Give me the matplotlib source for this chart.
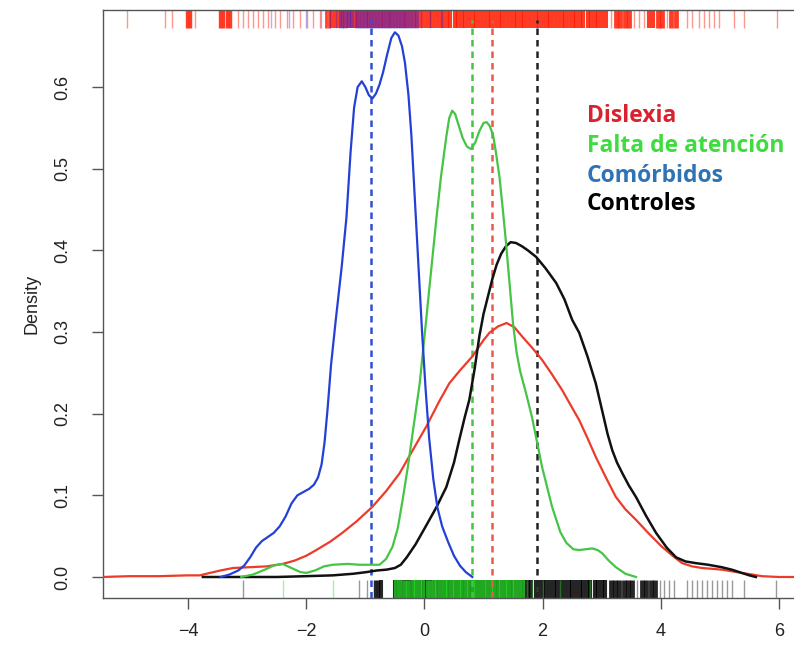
#!/bin/env python3

"""
Density curves of four groups with their means (dashed) and rug marks.
"""

import numpy
import matplotlib
matplotlib.use("Agg")
import matplotlib.pyplot as plt

FIGSIZE = (7.94, 6.45)
DPI = 100
PX_PER_UNIT = 59.3

# density curves
DIS_X = [-5.44, -5.0, -4.5, -4.0, -3.8, -3.63, -3.45, -3.24, -2.95, -2.67, -2.4,
         -2.2, -2.0, -1.83, -1.6, -1.39, -1.15, -0.88, -0.65, -0.42, -0.2, 0.03,
         0.25, 0.42, 0.59, 0.81, 1.0, 1.1, 1.25, 1.39, 1.52, 1.66, 1.82, 1.99,
         2.16, 2.33, 2.47, 2.62, 2.76, 2.9, 3.07, 3.24, 3.4, 3.58, 3.8, 4.02,
         4.2, 4.36, 4.53, 4.7, 4.87, 5.03, 5.2, 5.37, 5.55, 5.71, 6.0, 6.6]
DIS_Y = [0.0, 0.001, 0.001, 0.002, 0.002, 0.005, 0.008, 0.011, 0.012, 0.013, 0.016,
         0.02, 0.026, 0.033, 0.043, 0.054, 0.068, 0.086, 0.105, 0.127, 0.155, 0.184,
         0.215, 0.237, 0.252, 0.27, 0.29, 0.299, 0.307, 0.311, 0.306, 0.294, 0.281, 0.266,
         0.248, 0.229, 0.211, 0.192, 0.17, 0.147, 0.122, 0.098, 0.083, 0.07, 0.053, 0.037,
         0.026, 0.017, 0.013, 0.011, 0.01, 0.009, 0.007, 0.005, 0.003, 0.001, 0.0, 0.0]

FAL_X = [-3.1, -2.9, -2.7, -2.55, -2.4, -2.25, -2.1, -2.0, -1.85, -1.7, -1.55, -1.3,
         -1.1, -0.9, -0.76, -0.65, -0.54, -0.45, -0.37, -0.28, -0.2, -0.08, 0.03,
         0.12, 0.2, 0.28, 0.37, 0.42, 0.47, 0.52, 0.58, 0.65, 0.72, 0.79, 0.86, 0.93,
         1.0, 1.05, 1.1, 1.16, 1.21, 1.27, 1.32, 1.38, 1.44, 1.5, 1.56, 1.62, 1.72,
         1.82, 1.99, 2.16, 2.3, 2.4, 2.52, 2.62, 2.73, 2.84, 2.93, 3.01, 3.12, 3.24,
         3.4, 3.58]
FAL_Y = [0.0, 0.003, 0.009, 0.014, 0.016, 0.011, 0.006, 0.005, 0.008, 0.013, 0.015, 0.016,
         0.015, 0.015, 0.015, 0.022, 0.037, 0.06, 0.094, 0.135, 0.176, 0.237, 0.315,
         0.38, 0.437, 0.49, 0.539, 0.562, 0.571, 0.567, 0.553, 0.537, 0.527, 0.524, 0.532, 0.546,
         0.556, 0.557, 0.553, 0.542, 0.52, 0.49, 0.455, 0.41, 0.36, 0.31, 0.275, 0.252, 0.225,
         0.196, 0.135, 0.086, 0.055, 0.042, 0.034, 0.033, 0.034, 0.035, 0.033, 0.029, 0.02, 0.012,
         0.004, 0.0]

COM_X = [-3.45, -3.3, -3.15, -3.05, -2.95, -2.85, -2.75, -2.65, -2.55, -2.45, -2.35,
         -2.25, -2.15, -2.05, -1.95, -1.87, -1.8, -1.74, -1.69, -1.64, -1.58, -1.5,
         -1.4, -1.32, -1.25, -1.19, -1.13, -1.06, -1.0, -0.94, -0.88, -0.82, -0.76,
         -0.7, -0.63, -0.56, -0.5, -0.44, -0.38, -0.33, -0.27, -0.22, -0.16, -0.1,
         -0.04, 0.02, 0.08, 0.15, 0.22, 0.3, 0.4, 0.5, 0.6, 0.7, 0.81]
COM_Y = [0.0, 0.003, 0.008, 0.014, 0.024, 0.036, 0.044, 0.049, 0.054, 0.062, 0.074,
         0.09, 0.1, 0.104, 0.108, 0.113, 0.122, 0.138, 0.165, 0.205, 0.26, 0.315,
         0.38, 0.44, 0.52, 0.575, 0.6, 0.607, 0.6, 0.59, 0.586, 0.592, 0.603,
         0.618, 0.64, 0.66, 0.667, 0.663, 0.65, 0.63, 0.59, 0.54, 0.46, 0.38,
         0.3, 0.23, 0.17, 0.12, 0.085, 0.062, 0.043, 0.026, 0.014, 0.006, 0.0]

CON_X = [-3.75, -3.0, -2.5, -2.0, -1.55, -1.2, -0.98, -0.8, -0.64, -0.5, -0.4, -0.3,
         -0.15, 0.03, 0.2, 0.37, 0.5, 0.59, 0.68, 0.76, 0.85, 0.93, 1.0, 1.08, 1.15,
         1.22, 1.3, 1.38, 1.46, 1.55, 1.65, 1.75, 1.89, 2.05, 2.23, 2.37, 2.5, 2.62,
         2.76, 2.9, 3.02, 3.1, 3.18, 3.26, 3.35, 3.46, 3.58, 3.75, 3.92, 4.1, 4.26,
         4.42, 4.59, 4.8, 5.03, 5.2, 5.37, 5.5, 5.61]
CON_Y = [0.0, 0.0, 0.0, 0.001, 0.002, 0.004, 0.006, 0.008, 0.009, 0.011, 0.015, 0.024,
         0.04, 0.063, 0.085, 0.11, 0.14, 0.168, 0.195, 0.217, 0.255, 0.295, 0.322, 0.345, 0.365,
         0.382, 0.396, 0.405, 0.41, 0.409, 0.405, 0.4, 0.392, 0.378, 0.36, 0.34, 0.315, 0.299,
         0.27, 0.237, 0.2, 0.175, 0.155, 0.14, 0.127, 0.112, 0.098, 0.075, 0.054, 0.036, 0.024,
         0.019, 0.017, 0.015, 0.012, 0.009, 0.005, 0.002, 0.0]

# group means (dashed lines)
MEANS = {"Comórbidos": -0.9, "Falta de atención": 0.81, "Dislexia": 1.15, "Controles": 1.91}

# rug marks (top: Dislexia, Comórbidos; bottom: Controles, Falta de atención)
RUG_DIS = [-5.03, -4.39, -4.27, -4.02, -3.97, -3.89, -3.46, -3.41, -3.34, -3.29, -3.16,
           -3.07, -2.99, -2.9, -2.82, -2.74, -2.65, -2.53, -2.45, -2.33, -2.23, -2.11,
           -1.99, -1.89, -1.77, -1.66,
           -1.62, -1.56, -1.49, -1.43, -1.37, -1.31, -1.24, -1.18, -1.12, -1.06, -0.99,
           -0.93, -0.87, -0.81, -0.74, -0.68, -0.62, -0.56, -0.49, -0.43, -0.37, -0.31,
           -0.24, -0.18, -0.12, -0.06, 0.01, 0.07, 0.13, 0.19, 0.26, 0.32, 0.38, 0.44,
           0.51, 0.57, 0.63, 0.69, 0.76, 0.82, 0.88, 0.94, 1.01, 1.07, 1.13, 1.19, 1.26,
           1.32, 1.38, 1.44, 1.51, 1.57, 1.63, 1.69, 1.76, 1.82, 1.88, 1.94, 2.01, 2.07,
           2.13, 2.19, 2.26, 2.32, 2.38, 2.44, 2.51, 2.57, 2.63, 2.69, 2.76, 2.82, 2.88,
           2.94, 3.01, 3.07, 3.16, 3.24, 3.31, 3.4, 3.47, 3.55, 3.63, 3.72, 3.8, 3.86,
           3.95, 4.02, 4.1, 4.18, 4.25, 4.44, 4.53, 4.65, 4.73, 4.81, 4.9, 4.98, 5.24,
           5.41, 5.96]
RUG_COM = [-2.6, -2.3, -2.0, -1.75, -1.6, -1.5, -1.42, -1.35, -1.28, -1.22, -1.15, -1.1,
           -1.05, -1.0, -0.95, -0.9, -0.85, -0.8, -0.75, -0.7, -0.65, -0.6, -0.55, -0.5,
           -0.45, -0.4, -0.35, -0.3, -0.22, -0.15, -0.05, 0.1, 0.3]
RUG_CON = [-3.07, -1.1, -0.98, -0.84, -0.79, -0.73, -0.5, -0.44, -0.38, -0.31, -0.25,
           -0.19, -0.12, -0.06, 0.0, 0.06, 0.13, 0.19, 0.25, 0.31, 0.38, 0.44, 0.5,
           0.56, 0.63, 0.69, 0.75, 0.81, 0.88, 0.94, 1.0, 1.06, 1.13, 1.19, 1.25, 1.31,
           1.38, 1.44, 1.5, 1.56, 1.63, 1.69, 1.75, 1.81, 1.88, 1.94, 2.0, 2.06, 2.13,
           2.19, 2.25, 2.31, 2.38, 2.44, 2.5, 2.56, 2.63, 2.69, 2.75, 2.81, 2.88, 2.94,
           3.0, 3.06, 3.15, 3.22, 3.3, 3.37, 3.45, 3.52, 3.6, 3.68, 3.75, 3.83, 3.9,
           3.98, 4.06, 4.14, 4.22, 4.44, 4.53, 4.61, 4.7, 4.78, 4.86, 4.95, 5.03, 5.12,
           5.2, 5.41, 5.95]
RUG_FAL = [-2.4, -1.55, -0.48, -0.42, -0.35, -0.28, -0.2, -0.14, -0.08, -0.02, 0.05,
           0.1, 0.16, 0.22, 0.28, 0.34, 0.4, 0.46, 0.52, 0.58, 0.64, 0.7, 0.76, 0.82,
           0.88, 0.94, 1.0, 1.06, 1.12, 1.18, 1.24, 1.3, 1.36, 1.42, 1.48, 1.54, 1.6,
           1.66, 1.74, 1.82, 1.9, 2.0, 2.3, 2.8]

GROUPS = ["Dislexia", "Falta de atención", "Comórbidos", "Controles"]
CURVE_COLORS = {"Dislexia": "#ec3b2a", "Falta de atención": "#45c445",
                "Comórbidos": "#2440d6", "Controles": "#111111"}
TEXT_COLORS = {"Dislexia": "#d8232f", "Falta de atención": "#3fdc3f",
               "Comórbidos": "#2e74b5", "Controles": "#000000"}
DASH_COLORS = {"Dislexia": "#ea5a48", "Falta de atención": "#45c445",
               "Comórbidos": "#3050d0", "Controles": "#222222"}


def draw_rug(ax, values, color, top, alpha_dense, alpha_sparse):
    # widen marks only where they sit close together so dense parts look solid
    v = numpy.array(sorted(values))
    gaps = numpy.diff(v)
    near = numpy.minimum(numpy.r_[gaps, numpy.inf], numpy.r_[numpy.inf, gaps])
    dense = near < 0.072
    lw_px = numpy.where(dense, numpy.clip(near * PX_PER_UNIT * 1.15, 1.4, 5.0), 1.4)
    alpha = numpy.where(dense, alpha_dense, alpha_sparse)
    lo, hi = (0.97, 1.0) if top else (0.0, 0.03)
    for x, w, a in zip(v, lw_px * 0.72, alpha):
        ax.plot([x, x], [lo, hi], color=color, alpha=a, linewidth=w,
                solid_capstyle='butt', transform=ax.get_xaxis_transform(), zorder=1)


def main():
    plt.rcParams['font.family'] = ['Liberation Sans', 'DejaVu Sans']
    fig = plt.figure(figsize=FIGSIZE, dpi=DPI)
    ax = fig.add_axes([0.1297, 0.0729, 0.896, 0.9116])
    ax.set_xlim(-5.44, 6.6)
    ax.set_ylim(-0.0257, 0.6943)

    # rugs
    draw_rug(ax, RUG_DIS, "#ff1a00", True, 0.85, 0.45)
    draw_rug(ax, RUG_COM, "#3020e0", True, 0.45, 0.35)
    draw_rug(ax, RUG_CON, "#000000", False, 0.85, 0.4)
    draw_rug(ax, RUG_FAL, "#22dd22", False, 0.7, 0.4)

    # densities
    ax.plot(DIS_X, DIS_Y, color=CURVE_COLORS["Dislexia"], lw=1.6, zorder=3)
    ax.plot(CON_X, CON_Y, color=CURVE_COLORS["Controles"], lw=1.8, zorder=3)
    ax.plot(FAL_X, FAL_Y, color=CURVE_COLORS["Falta de atención"], lw=1.6, zorder=3)
    ax.plot(COM_X, COM_Y, color=CURVE_COLORS["Comórbidos"], lw=1.6, zorder=3)

    # means
    for g, m in MEANS.items():
        ax.plot([m, m], [-0.0257, 0.682], color=DASH_COLORS[g], lw=1.8,
                dashes=(2.6, 2.0), zorder=2)

    # legend as coloured text
    ys = [0.8109, 0.7643, 0.7178, 0.6744]
    for g, y in zip(GROUPS, ys):
        fig.text(0.739, y, g, color=TEXT_COLORS[g], fontsize=16.5,
                 family=['Open Sans', 'DejaVu Sans'], weight='bold', va='baseline')

    ax.set_xticks([-4, -2, 0, 2, 4, 6])
    ax.set_xticklabels(["\u22124", "\u22122", "0", "2", "4", "6"])
    ax.set_yticks([0.0, 0.1, 0.2, 0.3, 0.4, 0.5, 0.6])
    ax.set_yticklabels(["0.0", "0.1", "0.2", "0.3", "0.4", "0.5", "0.6"],
                       rotation=90, va='center')
    ax.tick_params(axis='x', length=8, width=1, color='#555555', labelsize=13,
                   pad=10, labelcolor='#222222')
    ax.tick_params(axis='y', length=8, width=1, color='#555555', labelsize=13,
                   pad=15, labelcolor='#222222')
    ax.set_ylabel("Density", fontsize=13, color='#222222', labelpad=10)
    for s in ax.spines.values():
        s.set_color('#555555')
        s.set_linewidth(1.0)

    fig.savefig("out.png", dpi=DPI)


if __name__ == "__main__":
    main()
